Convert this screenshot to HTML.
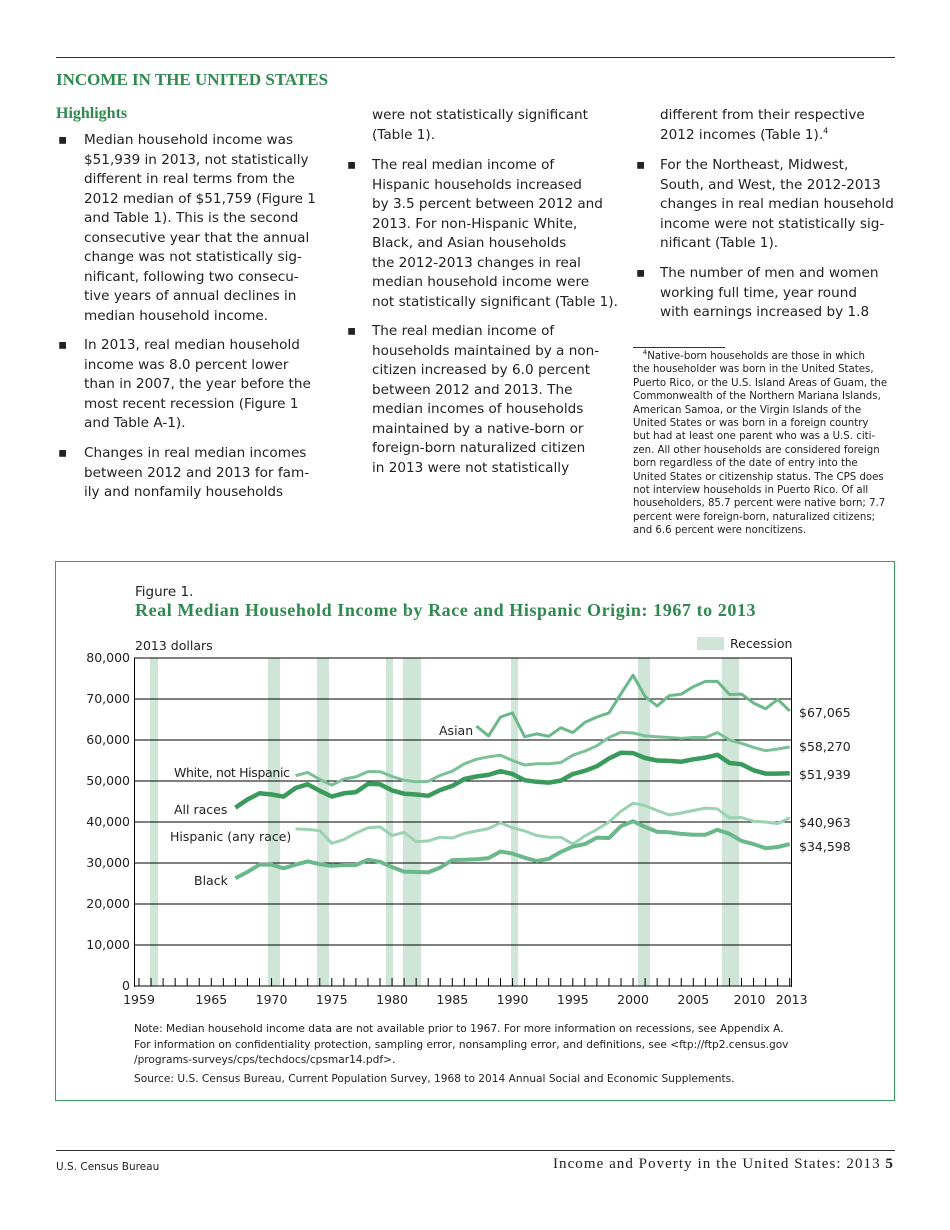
<!DOCTYPE html>
<html><head><meta charset="utf-8"><style>
body{margin:0;width:950px;height:1230px;background:#fff;font-family:"DejaVu Sans","Liberation Sans",sans-serif;color:#222;position:relative;overflow:hidden}
.a{position:absolute}
.t{font-size:13.6px;line-height:19.5px;white-space:nowrap}
.g{color:#2e8a4f;font-family:"Liberation Serif",serif;font-weight:bold}
.fn{font-size:10.2px;line-height:13.4px;white-space:nowrap}
</style></head><body>
<div class="a" style="left:56px;top:57px;width:839px;border-top:1px solid #333"></div>
<div class="a g" style="left:56px;top:70px;font-size:17px">INCOME IN THE UNITED STATES</div>
<div class="a g" style="left:56px;top:105px;font-size:16px">Highlights</div>

<div class="a t" style="left:58px;top:131px">▪</div>
<div class="a t" style="left:84px;top:131px">Median household income was<br>$51,939 in 2013, not statistically<br>different in real terms from the<br>2012 median of $51,759 (Figure 1<br>and Table 1). This is the second<br>consecutive year that the annual<br>change was not statistically sig-<br>nificant, following two consecu-<br>tive years of annual declines in<br>median household income.</div>
<div class="a t" style="left:58px;top:336px">▪</div>
<div class="a t" style="left:84px;top:336px">In 2013, real median household<br>income was 8.0 percent lower<br>than in 2007, the year before the<br>most recent recession (Figure 1<br>and Table A-1).</div>
<div class="a t" style="left:58px;top:444px">▪</div>
<div class="a t" style="left:84px;top:444px">Changes in real median incomes<br>between 2012 and 2013 for fam-<br>ily and nonfamily households</div>

<div class="a t" style="left:372px;top:106px">were not statistically significant<br>(Table 1).</div>
<div class="a t" style="left:347px;top:156px">▪</div>
<div class="a t" style="left:372px;top:156px">The real median income of<br>Hispanic households increased<br>by 3.5 percent between 2012 and<br>2013. For non-Hispanic White,<br>Black, and Asian households<br>the 2012-2013 changes in real<br>median household income were<br>not statistically significant (Table 1).</div>
<div class="a t" style="left:347px;top:322px">▪</div>
<div class="a t" style="left:372px;top:322px">The real median income of<br>households maintained by a non-<br>citizen increased by 6.0 percent<br>between 2012 and 2013. The<br>median incomes of households<br>maintained by a native-born or<br>foreign-born naturalized citizen<br>in 2013 were not statistically</div>

<div class="a t" style="left:660px;top:106px">different from their respective<br>2012 incomes (Table 1).<sup style="font-size:8px;line-height:0">4</sup></div>
<div class="a t" style="left:636px;top:156px">▪</div>
<div class="a t" style="left:660px;top:156px">For the Northeast, Midwest,<br>South, and West, the 2012-2013<br>changes in real median household<br>income were not statistically sig-<br>nificant (Table 1).</div>
<div class="a t" style="left:636px;top:264px">▪</div>
<div class="a t" style="left:660px;top:264px">The number of men and women<br>working full time, year round<br>with earnings increased by 1.8</div>
<div class="a" style="left:633px;top:347px;width:92px;border-top:1px solid #333"></div>
<div class="a fn" style="left:633px;top:350px">&nbsp;&nbsp;&nbsp;<sup style="font-size:7px;line-height:0">4</sup>Native-born households are those in which<br>the householder was born in the United States,<br>Puerto Rico, or the U.S. Island Areas of Guam, the<br>Commonwealth of the Northern Mariana Islands,<br>American Samoa, or the Virgin Islands of the<br>United States or was born in a foreign country<br>but had at least one parent who was a U.S. citi-<br>zen. All other households are considered foreign<br>born regardless of the date of entry into the<br>United States or citizenship status. The CPS does<br>not interview households in Puerto Rico. Of all<br>householders, 85.7 percent were native born; 7.7<br>percent were foreign-born, naturalized citizens;<br>and 6.6 percent were noncitizens.</div>

<div class="a" style="left:55px;top:561px;width:838px;height:538px;border:1px solid #3a9a5c"></div>
<div class="a" style="left:135px;top:584px;font-size:13.5px">Figure 1.</div>
<div class="a g" style="left:135px;top:600px;font-size:18px;letter-spacing:0.58px">Real Median Household Income by Race and Hispanic Origin: 1967 to 2013</div>

<svg class="a" style="left:0;top:0" width="950" height="1230" id="ch" font-family="DejaVu Sans, Liberation Sans, sans-serif" font-size="12.5" fill="#222"></svg>

<div class="a" style="left:134px;top:1022px;font-size:10.6px;line-height:15.5px;white-space:nowrap">Note: Median household income data are not available prior to 1967. For more information on recessions, see Appendix A.<br>For information on confidentiality protection, sampling error, nonsampling error, and definitions, see &lt;ftp://ftp2.census.gov<br>/programs-surveys/cps/techdocs/cpsmar14.pdf&gt;.<br><span style="display:inline-block;margin-top:3px">Source: U.S. Census Bureau, Current Population Survey, 1968 to 2014 Annual Social and Economic Supplements.</span></div>

<div class="a" style="left:56px;top:1150px;width:839px;border-top:1px solid #333"></div>
<div class="a" style="left:56px;top:1161px;font-size:10.5px">U.S. Census Bureau</div>
<div class="a" style="left:553px;top:1156px;font-size:15px;letter-spacing:1.05px;font-family:'Liberation Serif',serif">Income and Poverty in the United States: 2013 <b>5</b></div>

<script>
var s=document.getElementById('ch'),h='';
function X(y){return 139+(y-1959)*12.05}
function Y(v){return 986-v*4.1}
[[150,158],[268,280],[317,329],[386,393],[403,421],[511,518],[638,650],[722,739]].forEach(function(r){h+='<rect x="'+r[0]+'" y="658" width="'+(r[1]-r[0])+'" height="328" fill="#cfe5d8"/>'});
h+='<rect x="697" y="637" width="27" height="13" fill="#cfe5d8"/><text x="730" y="648">Recession</text>';
h+='<text x="135" y="650">2013 dollars</text>';
for(var i=0;i<=8;i++){var y=Y(i*10);h+='<line x1="134" x2="792" y1="'+y+'" y2="'+y+'" stroke="#000" stroke-width="1"/>';h+='<text x="130" y="'+(y+4)+'" text-anchor="end">'+(i?(i*10)+',000':'0')+'</text>';}
h+='<line x1="134.5" x2="134.5" y1="658" y2="987" stroke="#000"/><line x1="791.5" x2="791.5" y1="658" y2="987" stroke="#000"/>';
for(var yr=1959;yr<=2013;yr++){var x=X(yr);h+='<line x1="'+x+'" x2="'+x+'" y1="978" y2="986" stroke="#000"/>';}
[1959,1965,1970,1975,1980,1985,1990,1995,2000,2005,2010,2013].forEach(function(yr){h+='<text x="'+(X(yr)+(yr==2010?-4:yr==2013?2:0))+'" y="1004" text-anchor="middle">'+yr+'</text>'});
function L(st,d,c,w){var p=d.map(function(v,i){return X(st+i).toFixed(1)+','+Y(v).toFixed(1)}).join(' ');h+='<polyline points="'+p+'" fill="none" stroke="'+c+'" stroke-width="'+w+'" stroke-linejoin="round"/>';}
L(1987,[63.4,61.0,65.6,66.6,60.8,61.5,60.9,63.0,61.8,64.3,65.6,66.6,71.3,75.8,70.6,68.3,70.8,71.2,73.0,74.3,74.3,71.1,71.2,69.0,67.6,69.9,67.1],'#6bb88a',3);
L(1972,[51.3,52.1,50.4,49.0,50.5,51.0,52.3,52.3,51.1,50.2,49.8,49.9,51.4,52.4,54.2,55.3,55.9,56.3,55.0,53.9,54.2,54.2,54.5,56.3,57.3,58.6,60.6,61.9,61.7,61.0,60.8,60.6,60.4,60.6,60.6,61.8,60.0,59.2,58.2,57.4,57.8,58.3],'#7cc097',3);
L(1972,[38.3,38.2,37.9,34.8,35.7,37.3,38.6,38.8,36.7,37.5,35.2,35.4,36.3,36.1,37.2,37.8,38.4,39.8,38.6,37.8,36.7,36.3,36.3,34.6,36.6,38.2,40.0,42.6,44.6,44.0,42.8,41.7,42.2,42.8,43.4,43.2,41.0,41.1,40.2,40.0,39.6,41.0],'#9bd2b1',3);
L(1967,[26.3,27.8,29.6,29.6,28.7,29.6,30.4,29.7,29.3,29.5,29.5,30.8,30.3,29.0,27.9,27.8,27.7,28.9,30.7,30.8,30.9,31.2,32.8,32.3,31.3,30.5,31.0,32.7,34.0,34.6,36.2,36.1,39.0,40.2,38.8,37.6,37.5,37.1,36.9,36.9,38.1,37.1,35.4,34.6,33.6,33.9,34.6],'#6bb88a',4);
L(1967,[43.5,45.5,47,46.7,46.2,48.3,49.2,47.6,46.2,47,47.3,49.3,49.2,47.7,46.9,46.7,46.4,47.8,48.8,50.5,51.1,51.5,52.4,51.7,50.2,49.8,49.6,50.1,51.7,52.5,53.6,55.5,56.9,56.8,55.6,55.0,54.9,54.7,55.3,55.7,56.4,54.4,54.1,52.6,51.8,51.8,51.9],'#3a9a5c',4.5);
[['Asian',439,735],['White, not Hispanic',174,777],['All races',174,814],['Hispanic (any race)',170,841],['Black',194,885],['$67,065',799,717],['$58,270',799,751],['$51,939',799,779],['$40,963',799,827],['$34,598',799,851]].forEach(function(t){h+='<text x="'+t[1]+'" y="'+t[2]+'"'+(t[0]=='White, not Hispanic'?' textLength="116"':'')+'>'+t[0]+'</text>'});
s.innerHTML=h;
</script>
</body></html>
